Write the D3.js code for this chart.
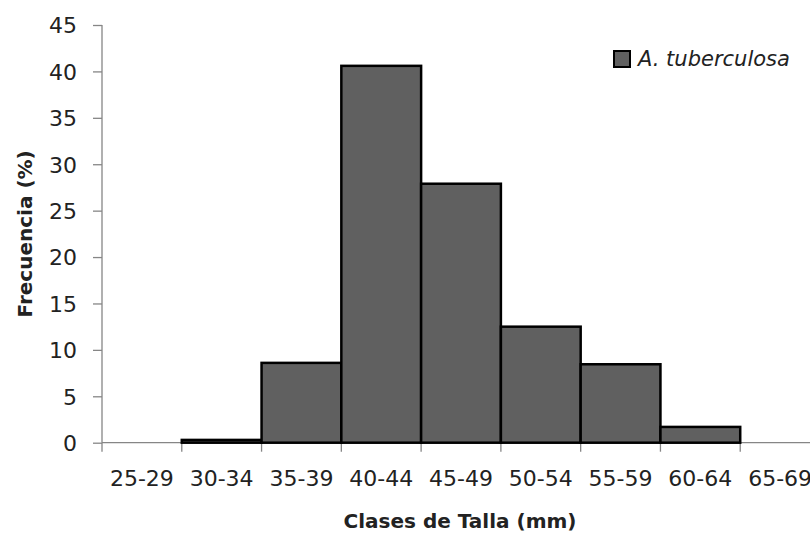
<!DOCTYPE html>
<html>
<head>
<meta charset="utf-8">
<script src="https://cdn.jsdelivr.net/npm/d3@7"></script>
<style>
  body { margin: 0; background: #fff; }
  text { font-family: "DejaVu Sans", sans-serif; fill: #222; }
</style>
</head>
<body>
<div id="chart"></div>
<script>
// size classes and frequency (%)
var classes = ["25-29", "30-34", "35-39", "40-44", "45-49", "50-54", "55-59", "60-64", "65-69"];
var frecuencia = [0, 0.3, 8.6, 40.6, 27.9, 12.5, 8.45, 1.7, 0];
var yTicks = [0, 5, 10, 15, 20, 25, 30, 35, 40, 45];
var seriesName = "A. tuberculosa";

var svgWidth = 810;
var svgHeight = 533;
var margin = { top: 25, left: 102, bottom: 90 };
var plotRight = 820;   // last class runs off the page, like the original
var y0 = 442.7;

var svg = d3.select("#chart")
  .append("svg")
  .attr("width", svgWidth)
  .attr("height", svgHeight);

var xScale = d3.scaleBand()
  .domain(classes)
  .range([margin.left, plotRight])
  .padding(0);

var yScale = d3.scaleLinear()
  .domain([0, 45])
  .range([y0, margin.top]);

// y axis
var leftAxis = d3.axisLeft(yScale)
  .tickValues(yTicks)
  .tickSize(9)
  .tickPadding(16);
var yAxis = svg.append("g")
  .attr("transform", `translate(${margin.left},0)`)
  .call(leftAxis);

// x axis (ticks at class boundaries)
var boundaries = classes.map(c => xScale(c));
var xAxis = svg.append("g");
xAxis.append("line")
  .attr("x1", margin.left).attr("x2", plotRight)
  .attr("y1", y0).attr("y2", y0);
xAxis.selectAll(".xtick")
  .data(boundaries)
  .enter()
  .append("line")
  .attr("class", "xtick")
  .attr("x1", d => d).attr("x2", d => d)
  .attr("y1", y0).attr("y2", y0 + 9);
xAxis.selectAll("text")
  .data(classes)
  .enter()
  .append("text")
  .attr("x", d => xScale(d) + xScale.bandwidth() / 2)
  .attr("y", 485.5)
  .attr("text-anchor", "middle")
  .style("font-size", "22px")
  .text(d => d);

// axis styling
svg.selectAll(".domain, .tick line, line")
  .attr("stroke", "#868686")
  .attr("stroke-width", 1.3);
yAxis.select(".domain").attr("d", `M0,${margin.top}V${y0}`);
yAxis.selectAll(".tick text")
  .attr("dy", "0.36em")
  .style("font-family", "DejaVu Sans")
  .style("font-size", "22px")
  .attr("fill", "#222");

// bars, on top of the x axis line
svg.append("g")
  .selectAll("rect")
  .data(frecuencia)
  .enter()
  .append("rect")
  .attr("x", (d, i) => xScale(classes[i]))
  .attr("y", d => yScale(d))
  .attr("width", xScale.bandwidth())
  .attr("height", d => y0 - yScale(d))
  .attr("fill", "#606060")
  .attr("stroke", d => d > 0 ? "#000" : "none")
  .attr("stroke-width", 2.5);

// axis titles
svg.append("text")
  .attr("transform", "translate(31.5," + (y0 + margin.top) / 2 + ") rotate(-90)")
  .attr("text-anchor", "middle")
  .style("font-size", "20px")
  .style("font-weight", "bold")
  .text("Frecuencia (%)");

svg.append("text")
  .attr("x", 460)
  .attr("y", 527.5)
  .attr("text-anchor", "middle")
  .style("font-size", "20px")
  .style("font-weight", "bold")
  .text("Clases de Talla (mm)");

// legend
var legend = svg.append("g").attr("transform", "translate(614,51)");
legend.append("rect")
  .attr("width", 16).attr("height", 16)
  .attr("fill", "#606060")
  .attr("stroke", "#000")
  .attr("stroke-width", 2);
legend.append("text")
  .attr("x", 24)
  .attr("y", 15)
  .style("font-size", "21px")
  .style("font-style", "italic")
  .text(seriesName);
</script>
</body>
</html>
